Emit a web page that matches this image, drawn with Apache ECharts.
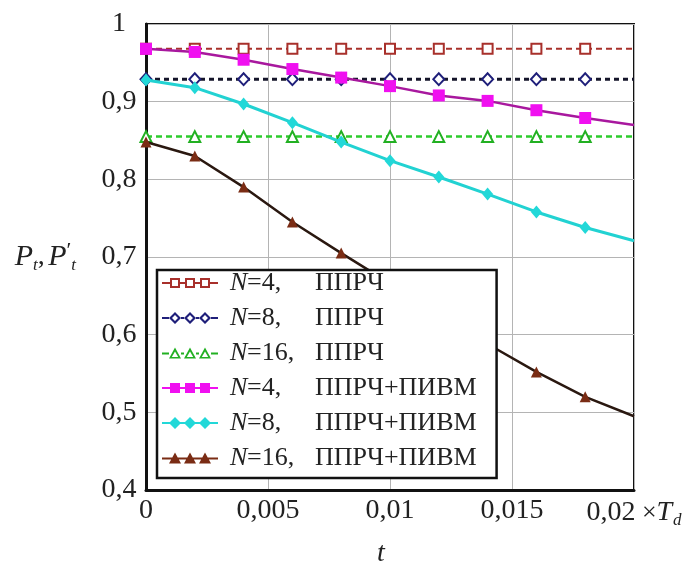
<!DOCTYPE html>
<html>
<head>
<meta charset="utf-8">
<script src="https://cdn.jsdelivr.net/npm/echarts@6/dist/echarts.min.js"></script>
<style>
  html, body { margin: 0; padding: 0; background: #ffffff; }
  #chart { width: 692px; height: 562px; }
</style>
</head>
<body>
<div id="chart"></div>
<script>
// Time axis (in units of T_d) and probability curves
const xValues = [0, 0.002, 0.004, 0.006, 0.008, 0.01, 0.012, 0.014, 0.016, 0.018, 0.02];

// ППРЧ only (constant over time)
const pN4 = [0.968, 0.968, 0.968, 0.968, 0.968, 0.968, 0.968, 0.968, 0.968, 0.968, 0.968];
const pN8 = [0.929, 0.929, 0.929, 0.929, 0.929, 0.929, 0.929, 0.929, 0.929, 0.929, 0.929];
const pN16 = [0.855, 0.855, 0.855, 0.855, 0.855, 0.855, 0.855, 0.855, 0.855, 0.855, 0.855];

// ППРЧ+ПИВМ
const pN4iv = [0.968, 0.964, 0.954, 0.942, 0.931, 0.920, 0.908, 0.901, 0.889, 0.879, 0.870];
const pN8iv = [0.928, 0.918, 0.897, 0.873, 0.848, 0.824, 0.803, 0.781, 0.758, 0.738, 0.721];
const pN16iv = [0.848, 0.830, 0.790, 0.745, 0.705, 0.666, 0.627, 0.588, 0.552, 0.520, 0.495];

const seriesNames = ['N=4, ППРЧ', 'N=8, ППРЧ', 'N=16, ППРЧ',
                     'N=4, ППРЧ+ПИВМ', 'N=8, ППРЧ+ПИВМ', 'N=16, ППРЧ+ПИВМ'];
const seriesValues = [pN4, pN8, pN16, pN4iv, pN8iv, pN16iv];

const xTickLabels = ['0', '0,005', '0,01', '0,015', '0,02'];
const yTickLabels = ['0,4', '0,5', '0,6', '0,7', '0,8', '0,9', '1'];

const FONT = 'Liberation Serif';

// Visual style of each curve
const looks = [
  { line: '#a8302b', mark: '#a8302b', dash: [6, 4], width: 2,   symbol: 'rect',     size: 10,       hollow: true },
  { line: '#15152a', mark: '#1f1f7a', dash: [5, 4], width: 3,   symbol: 'diamond',  size: [11, 12], hollow: true },
  { line: '#2ccc2c', mark: '#22b022', dash: [6, 4], width: 2.5, symbol: 'triangle', size: 11,       hollow: true },
  { line: '#a8189e', mark: '#f010f0', dash: null,   width: 2.5, symbol: 'rect',     size: 12,       hollow: false },
  { line: '#22d2d2', mark: '#22d8d8', dash: null,   width: 3,   symbol: 'diamond',  size: [11, 13], hollow: false },
  { line: '#2a1810', mark: '#7a2c14', dash: null,   width: 2.5, symbol: 'triangle', size: 11,       hollow: false }
];

// Legend glyphs: a line with three markers (hollow rings for ППРЧ curves)
const sq = c => `M${c-5} 1 H${c+5} V11 H${c-5} Z`;
const sqHole = c => `M${c-3} 3 V9 H${c+3} V3 Z`;
const di = c => `M${c} 0 L${c+6} 6 L${c} 12 L${c-6} 6 Z`;
const diHole = c => `M${c} 3 L${c-3} 6 L${c} 9 L${c+3} 6 Z`;
const tr = c => `M${c} 0 L${c+6} 11 L${c-6} 11 Z`;
const trHole = c => `M${c} 4 L${c-3.2} 9.5 L${c+3.2} 9.5 Z`;
const seg = (a, b) => `M${a} 5 H${b} V7 H${a} Z`;
const centers = [13, 28, 43];
function legendIcon(shape, half, hollow) {
  let d = '';
  if (hollow) {
    d += seg(0, 13 - half) + seg(13 + half, 28 - half) + seg(28 + half, 43 - half) + seg(43 + half, 56);
  } else {
    d += seg(0, 56);
  }
  centers.forEach(c => {
    if (shape === 'rect') d += sq(c) + (hollow ? sqHole(c) : '');
    if (shape === 'diamond') d += di(c) + (hollow ? diHole(c) : '');
    if (shape === 'triangle') d += tr(c) + (hollow ? trHole(c) : '');
  });
  return 'path://' + d;
}
const halfWidth = { rect: 5, diamond: 6, triangle: 6 };

function curveData(vals) {
  return xValues.map((x, i) => i < xValues.length - 1
    ? [x, vals[i]]
    : { value: [x, vals[i]], symbol: 'none' });
}

const series = seriesNames.map((name, i) => {
  const lk = looks[i];
  return {
    name: name,
    type: 'line',
    data: curveData(seriesValues[i]),
    symbol: lk.symbol,
    symbolSize: lk.size,
    showAllSymbol: true,
    clip: true,
    z: 2 + i,
    lineStyle: { color: lk.line, width: lk.width, type: lk.dash || 'solid' },
    itemStyle: lk.hollow
      ? { color: '#ffffff', borderColor: lk.mark, borderWidth: 2 }
      : { color: lk.mark, borderWidth: 0 },
    emphasis: { disabled: true }
  };
});

const chart = echarts.init(document.getElementById('chart'), null, { renderer: 'canvas' });

chart.setOption({
  animation: false,
  backgroundColor: '#ffffff',
  grid: {
    left: 146, right: 58, top: 24, bottom: 72,
    outerBoundsMode: 'none',
    containLabel: false,
    show: true, borderColor: '#111111', borderWidth: 2, backgroundColor: 'transparent'
  },
  xAxis: {
    type: 'value',
    min: 0, max: 0.02, interval: 0.005,
    name: 't',
    nameLocation: 'middle',
    nameGap: 50,
    nameTextStyle: { fontFamily: FONT, fontStyle: 'italic', fontSize: 28, color: '#222', padding: [0, 18, 0, 0] },
    axisLine: { show: true, lineStyle: { color: '#111', width: 3 } },
    axisTick: { show: false },
    splitLine: { show: true, lineStyle: { color: '#b4b4b4', width: 1 } },
    axisLabel: {
      margin: 7,
      fontFamily: FONT, fontSize: 28, color: '#222',
      showMaxLabel: true, showMinLabel: true,
      formatter: function (v) {
        const idx = Math.round(v / 0.005);
        const t = xTickLabels[idx];
        if (idx === xTickLabels.length - 1) {
          return '{n|' + t + '}{x| ×}{t|T}{d|d}';
        }
        return t;
      },
      rich: {
        n: { fontFamily: FONT, fontSize: 28, color: '#222', lineHeight: 32 },
        x: { fontFamily: FONT, fontSize: 26, color: '#222', lineHeight: 32 },
        t: { fontFamily: FONT, fontSize: 28, fontStyle: 'italic', color: '#222', lineHeight: 32 },
        d: { fontFamily: FONT, fontSize: 17, fontStyle: 'italic', color: '#222', lineHeight: 17, verticalAlign: 'bottom', padding: [0, 0, 0, 1] }
      }
    }
  },
  yAxis: {
    type: 'value',
    min: 0.4, max: 1, interval: 0.1,
    name: '{p|P}{s|t}{c|,} {p|P}{q|′}{s|t}',
    nameLocation: 'middle',
    nameRotate: 0,
    nameGap: 70,
    nameTextStyle: {
      align: 'right', verticalAlign: 'middle',
      rich: {
        p: { fontFamily: FONT, fontSize: 30, fontStyle: 'italic', color: '#222', lineHeight: 34 },
        s: { fontFamily: FONT, fontSize: 17, fontStyle: 'italic', color: '#222', lineHeight: 17, verticalAlign: 'bottom' },
        q: { fontFamily: FONT, fontSize: 22, color: '#222', lineHeight: 22, verticalAlign: 'top' },
        c: { fontFamily: FONT, fontSize: 28, color: '#222', lineHeight: 34 }
      }
    },
    axisLine: { show: true, lineStyle: { color: '#111', width: 3 } },
    axisTick: { show: false },
    splitLine: { show: true, lineStyle: { color: '#b4b4b4', width: 1 } },
    axisLabel: {
      margin: 27,
      align: 'center',
      padding: [3, 0, 0, 0],
      fontFamily: FONT, fontSize: 28, color: '#222',
      formatter: function (v) { return yTickLabels[Math.round((v - 0.4) / 0.1)]; }
    }
  },
  legend: {
    orient: 'vertical',
    left: 157, top: 270,
    padding: [0, 20, 7, 5],
    itemGap: 9,
    itemWidth: 56, itemHeight: 12,
    backgroundColor: '#ffffff',
    borderColor: '#111111', borderWidth: 2.5,
    selectedMode: false,
    z: 20,
    data: seriesNames.map((name, i) => ({
      name: name,
      icon: legendIcon(looks[i].symbol, halfWidth[looks[i].symbol], looks[i].hollow),
      itemStyle: { color: looks[i].mark, borderWidth: 0 }
    })),
    formatter: function (name) {
      const parts = name.split(', ');
      return '{i|N}{a|' + parts[0].slice(1) + ',}{b|' + parts[1] + '}';
    },
    textStyle: {
      fontFamily: FONT, fontSize: 26, color: '#222', lineHeight: 24,
      rich: {
        i: { fontFamily: FONT, fontSize: 26, fontStyle: 'italic', color: '#222', lineHeight: 24, width: 17, padding: [0, 0, 0, 7] },
        a: { fontFamily: FONT, fontSize: 26, color: '#222', lineHeight: 24, width: 68 },
        b: { fontFamily: FONT, fontSize: 26, color: '#222', lineHeight: 24 }
      }
    }
  },
  series: series
});
</script>
</body>
</html>
